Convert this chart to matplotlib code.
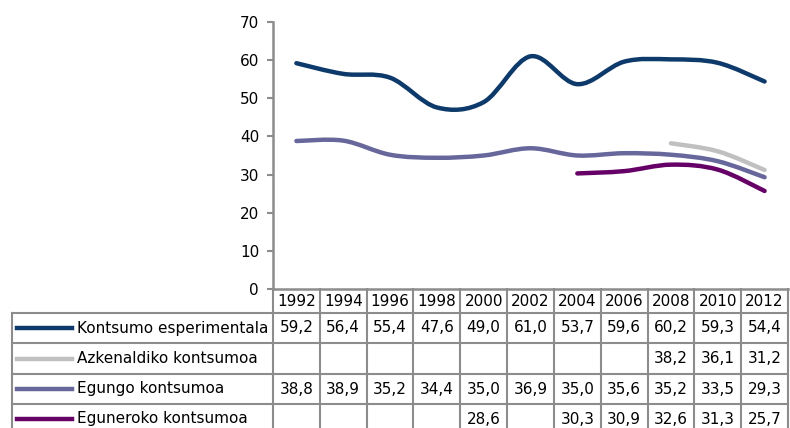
import matplotlib.pyplot as plt
from matplotlib.path import Path
from matplotlib.patches import PathPatch
from matplotlib.lines import Line2D
from matplotlib.transforms import blended_transform_factory

# ===========================
# DATA
# ===========================
years = [1992, 1994, 1996, 1998, 2000, 2002, 2004, 2006, 2008, 2010, 2012]
esperimentala = [59.2, 56.4, 55.4, 47.6, 49.0, 61.0, 53.7, 59.6, 60.2, 59.3, 54.4]
azkenaldiko = [None, None, None, None, None, None, None, None, 38.2, 36.1, 31.2]
egungo = [38.8, 38.9, 35.2, 34.4, 35.0, 36.9, 35.0, 35.6, 35.2, 33.5, 29.3]
eguneroko = [None, None, None, None, 28.6, None, 30.3, 30.9, 32.6, 31.3, 25.7]

series_names = ["Kontsumo esperimentala", "Azkenaldiko kontsumoa",
                "Egungo kontsumoa", "Eguneroko kontsumoa"]
series_values = [esperimentala, azkenaldiko, egungo, eguneroko]
series_colors = ["#0d3a6a", "#c0c0c0", "#67679c", "#660066"]

yticks = [0, 10, 20, 30, 40, 50, 60, 70]

# ===========================
# LAYOUT (pixels)
# ===========================
W, H = 790, 428
ax_left, ax_right, ax_top, ax_bottom = 273, 788, 22, 289
row_lines = [289, 313, 343, 374, 404, 434]
legend_left = 12
grid_col = "#8c8c8c"
font_size = 11

plt.rcParams['font.family'] = ['DejaVu Sans']


def fx(px):
    return px / W


def fy(py):
    return 1 - py / H


def smooth_path(xs, ys):
    # Excel style smoothed line: Catmull-Rom converted to cubic bezier
    verts = [(xs[0], ys[0])]
    codes = [Path.MOVETO]
    n = len(xs)
    for i in range(n - 1):
        a = i - 1 if i > 0 else i
        d = i + 2 if i + 2 < n else i + 1
        c1 = (xs[i] + (xs[i + 1] - xs[a]) / 6, ys[i] + (ys[i + 1] - ys[a]) / 6)
        c2 = (xs[i + 1] - (xs[d] - xs[i]) / 6, ys[i + 1] - (ys[d] - ys[i]) / 6)
        verts += [c1, c2, (xs[i + 1], ys[i + 1])]
        codes += [Path.CURVE4] * 3
    return Path(verts, codes)


fig = plt.figure(figsize=(W / 100, H / 100), dpi=100)
ax = fig.add_axes([fx(ax_left), fy(ax_bottom),
                   (ax_right - ax_left) / W, (ax_bottom - ax_top) / H])

# ===========================
# LINES
# ===========================
for vals, color in zip(series_values, series_colors):
    run_x, run_y = [], []
    for i, v in enumerate(vals + [None]):
        if v is None:
            if len(run_x) > 1:
                patch = PathPatch(smooth_path(run_x, run_y), fill=False,
                                  edgecolor=color, lw=3.2, capstyle='round',
                                  joinstyle='round')
                ax.add_patch(patch)
            run_x, run_y = [], []
        else:
            run_x.append(i)
            run_y.append(v)

ax.set_xlim(-0.5, len(years) - 0.5)
ax.set_ylim(0, 70)
ax.set_yticks(yticks)
ax.set_xticks([])
for s in ["top", "right"]:
    ax.spines[s].set_visible(False)
for s in ["left", "bottom"]:
    ax.spines[s].set_color(grid_col)
    ax.spines[s].set_linewidth(1.8)
ax.tick_params(axis='y', length=4.5, width=1.5, color=grid_col,
               pad=5.5, labelsize=font_size)

# ===========================
# DATA TABLE
# ===========================
tr = blended_transform_factory(ax.transData, fig.transFigure)
n = len(years)

# vertical column lines
for k in range(n + 1):
    fig.add_artist(Line2D([k - 0.5, k - 0.5], [fy(row_lines[0]), fy(row_lines[-1])],
                          transform=tr, color=grid_col, lw=1.5, clip_on=False))
# left edge of legend column
fig.add_artist(Line2D([fx(legend_left)] * 2, [fy(row_lines[1]), fy(row_lines[-1])],
                      transform=fig.transFigure, color=grid_col, lw=1.5))
# horizontal row lines
for py in row_lines[1:-1]:
    fig.add_artist(Line2D([fx(legend_left), fx(ax_right)], [fy(py)] * 2,
                          transform=fig.transFigure, color=grid_col, lw=1.5))

# header with years
hy = fy((row_lines[0] + row_lines[1]) / 2)
for i, yr in enumerate(years):
    fig.text(i, hy, str(yr), transform=tr, ha='center', va='center',
             fontsize=font_size)

# series rows
for r, (name, vals, color) in enumerate(zip(series_names, series_values, series_colors)):
    cy = fy((row_lines[r + 1] + row_lines[r + 2]) / 2)
    fig.add_artist(Line2D([fx(17), fx(72)], [cy, cy], transform=fig.transFigure,
                          color=color, lw=3.2))
    fig.text(fx(77), cy, name, ha='left', va='center', fontsize=font_size)
    for i, v in enumerate(vals):
        if v is not None:
            fig.text(i, cy, f"{v:.1f}".replace('.', ','), transform=tr,
                     ha='center', va='center', fontsize=font_size)

fig.savefig("out.png", dpi=100)
